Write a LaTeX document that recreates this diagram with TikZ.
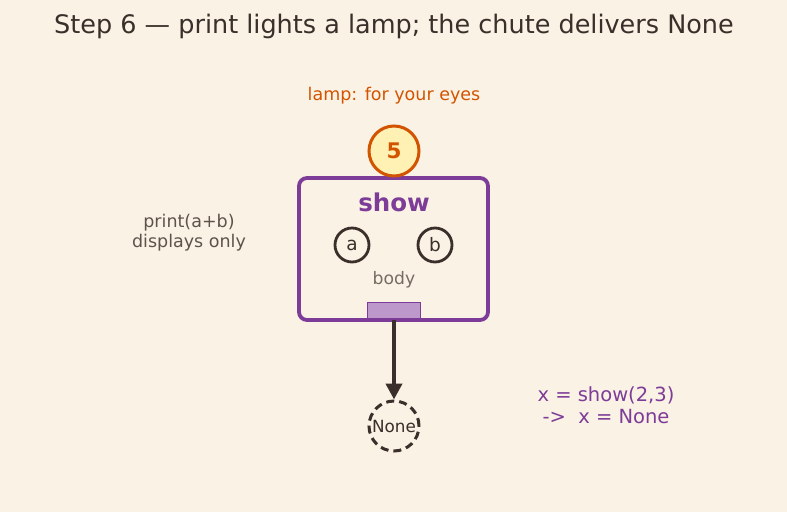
\documentclass[tikz,border=0pt]{standalone}
\usepackage{fontspec}
\setmainfont{DejaVu Sans}
\usepackage{tikz}
\usetikzlibrary{arrows.meta,positioning}

\definecolor{paper}{HTML}{FAF2E4}
\definecolor{ink}{HTML}{3A2F2A}
\definecolor{lampor}{HTML}{D35400}
\definecolor{lampfill}{HTML}{FFF0B3}
\definecolor{fnpurple}{HTML}{7D3C98}
\definecolor{chute}{HTML}{BC98CB}
\definecolor{softgray}{HTML}{776C63}
\definecolor{notegray}{HTML}{5E534C}

\begin{document}
\begin{tikzpicture}[
  x=1pt, y=-1pt,
  param/.style={circle, draw=ink, line width=2.8pt, minimum size=34pt, inner sep=0pt, font=\fontsize{18.5}{22}\selectfont, text=ink},
  arr/.style={-{Triangle[length=16pt,width=16pt]}, line width=4pt, draw=ink}
]
\fill[paper] (0,0) rectangle (787,512);
\useasboundingbox (0,0) rectangle (787,512);

\node[text=ink, font=\fontsize{25.5}{30}\selectfont] (title) at (394,26) {Step 6 — print lights a lamp; the chute delivers None};

% function box
\draw[fnpurple, line width=3.8pt, rounded corners=8pt] (299,178) rectangle (488,320);
\coordinate (box bottom) at (394,320);
\node[text=fnpurple, font=\bfseries\fontsize{24.5}{28}\selectfont] (show) at (394,202) {show};
\node[param] (pa) at (352,245) {a};
\node[param] (pb) at (435,245) {b};
\node[text=softgray, font=\fontsize{17.2}{20}\selectfont] (body) at (394,280) {body};
\node[draw=fnpurple, line width=0.8pt, fill=chute, minimum width=53pt, minimum height=16pt, inner sep=0pt] (slot) at (393.5,310) {};

% lamp
\node[circle, draw=lampor, fill=lampfill, line width=3pt, minimum size=50pt, inner sep=0pt, text=lampor, font=\bfseries\fontsize{21.5}{25}\selectfont] (lamp) at (394,151) {5};
\node[text=lampor, font=\fontsize{17.5}{21}\selectfont] (lamplbl) at (394,96) {lamp: for your eyes};

% result
\node[circle, draw=ink, dashed, dash pattern=on 8pt off 5pt, line width=3pt, minimum size=50pt, inner sep=0pt, text=ink, font=\fontsize{16.8}{20}\selectfont] (none) at (394,426) {None};
\draw[arr] (box bottom) -- (none.north);

% notes
\node[text=notegray, align=center, font=\fontsize{17.5}{20}\selectfont] (printnote) at (189,233) {print(a+b)\\displays only};
\node[text=fnpurple, align=center, font=\fontsize{19.5}{22}\selectfont] (xnote) at (606,405) {x = show(2,3)\\->\ \ x = None};
\end{tikzpicture}
\end{document}
